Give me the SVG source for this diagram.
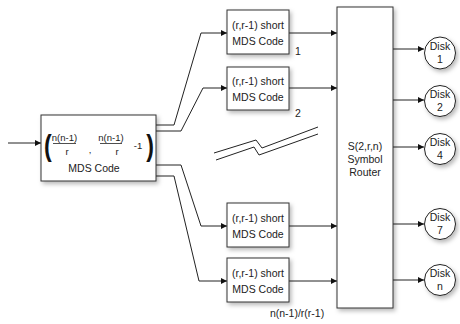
<svg xmlns="http://www.w3.org/2000/svg" width="460" height="324" viewBox="0 0 460 324">
<style>
.box{fill:#fff;stroke:#333;stroke-width:1;filter:url(#sh)}
.disk{fill:#fff;stroke:#222;stroke-width:1;filter:url(#sh)}
.t{font-family:"Liberation Sans",Arial,sans-serif;font-size:10.5px;fill:#222;text-anchor:middle}
.s{font-family:"Liberation Sans",Arial,sans-serif;font-size:9.5px;fill:#222;text-anchor:middle}
.p{font-family:"Liberation Sans",Arial,sans-serif;font-size:29px;font-weight:bold;fill:#111;text-anchor:middle}
.c{fill:none;stroke:#222;stroke-width:1}
.a{fill:none;stroke:#222;stroke-width:1;marker-end:url(#ah)}
</style>
<defs>
<marker id="ah" viewBox="0 0 10 10" refX="10" refY="5" markerWidth="7" markerHeight="6" markerUnits="userSpaceOnUse" orient="auto">
<path d="M0,0 L10,5 L0,10 z" fill="#111"/>
</marker>
<filter id="sh" x="-20%" y="-20%" width="150%" height="150%">
<feDropShadow dx="2" dy="2.5" stdDeviation="2" flood-color="#000" flood-opacity="0.28"/>
</filter>
</defs>
<g id="connectors">
<path class="a" d="M8,143 H41"/>
<path class="a" d="M156,125 H174 L201,33 H227"/>
<path class="a" d="M156,131 H181 L203,88 H227"/>
<path class="a" d="M156,165 H181 L201,226 H227"/>
<path class="a" d="M156,176 H174 L199,281 H227"/>
<path class="a" d="M289,33 H337"/>
<path class="a" d="M289,88 H337"/>
<path class="a" d="M289,226 H337"/>
<path class="a" d="M289,281 H337"/>
<path class="a" d="M393,49 H424"/>
<path class="a" d="M393,100 H424"/>
<path class="a" d="M393,147 H424"/>
<path class="a" d="M393,224 H424"/>
<path class="a" d="M393,280 H424"/>
</g>
<g id="break">
<path class="c" d="M214,153 L256,140 L262,148 L318,127"/>
<path class="c" d="M216,160 L254,147 L259,155 L318,134"/>
</g>
<g id="mds">
<rect class="box" x="41" y="115" width="115" height="66"/>
<text class="p" x="48" y="156" transform="translate(48,146) scale(0.8,1) translate(-48,-146)">(</text>
<text class="p" x="150" y="156" transform="translate(150,146) scale(0.8,1) translate(-150,-146)">)</text>
<text class="s" x="64.5" y="141">n(n-1)</text>
<line x1="53" y1="143.5" x2="76" y2="143.5" stroke="#222" stroke-width="0.8"/>
<text class="s" x="67" y="155">r</text>
<text class="s" x="90" y="153">,</text>
<text class="s" x="111" y="141">n(n-1)</text>
<line x1="100" y1="143.5" x2="122" y2="143.5" stroke="#222" stroke-width="0.8"/>
<text class="s" x="117" y="155">r</text>
<text class="s" x="138" y="149">-1</text>
<text class="t" x="94" y="172">MDS Code</text>
</g>
<g id="short1">
<rect class="box" x="227" y="10" width="62" height="44"/>
<text class="t" x="258" y="29">(r,r-1) short</text>
<text class="t" x="258" y="45">MDS Code</text>
</g>
<g id="short2">
<rect class="box" x="227" y="67" width="62" height="43"/>
<text class="t" x="258" y="85">(r,r-1) short</text>
<text class="t" x="258" y="101">MDS Code</text>
</g>
<g id="short3">
<rect class="box" x="227" y="203" width="62" height="44"/>
<text class="t" x="258" y="222">(r,r-1) short</text>
<text class="t" x="258" y="238">MDS Code</text>
</g>
<g id="short4">
<rect class="box" x="227" y="258" width="62" height="44"/>
<text class="t" x="258" y="277">(r,r-1) short</text>
<text class="t" x="258" y="293">MDS Code</text>
</g>
<text class="t" x="298" y="55">1</text>
<text class="t" x="298" y="117">2</text>
<text class="t" x="297" y="317">n(n-1)/r(r-1)</text>
<g id="router">
<rect class="box" x="337" y="7" width="56" height="301"/>
<text class="t" x="365" y="150">S(2,r,n)</text>
<text class="t" x="365" y="163">Symbol</text>
<text class="t" x="365" y="176">Router</text>
</g>
<g id="disk1"><ellipse class="disk" cx="440" cy="53" rx="15.5" ry="16"/><text class="t" x="440" y="50">Disk</text><text class="t" x="440" y="63">1</text></g>
<g id="disk2"><ellipse class="disk" cx="440" cy="101" rx="15.5" ry="15.5"/><text class="t" x="440" y="98">Disk</text><text class="t" x="440" y="111">2</text></g>
<g id="disk4"><ellipse class="disk" cx="440" cy="149" rx="15.5" ry="15.5"/><text class="t" x="440" y="146">Disk</text><text class="t" x="440" y="159">4</text></g>
<g id="disk7"><ellipse class="disk" cx="440" cy="224" rx="15.5" ry="15.5"/><text class="t" x="440" y="221">Disk</text><text class="t" x="440" y="234">7</text></g>
<g id="diskn"><ellipse class="disk" cx="440" cy="280" rx="15.5" ry="15.5"/><text class="t" x="440" y="277">Disk</text><text class="t" x="440" y="290">n</text></g>
</svg>
